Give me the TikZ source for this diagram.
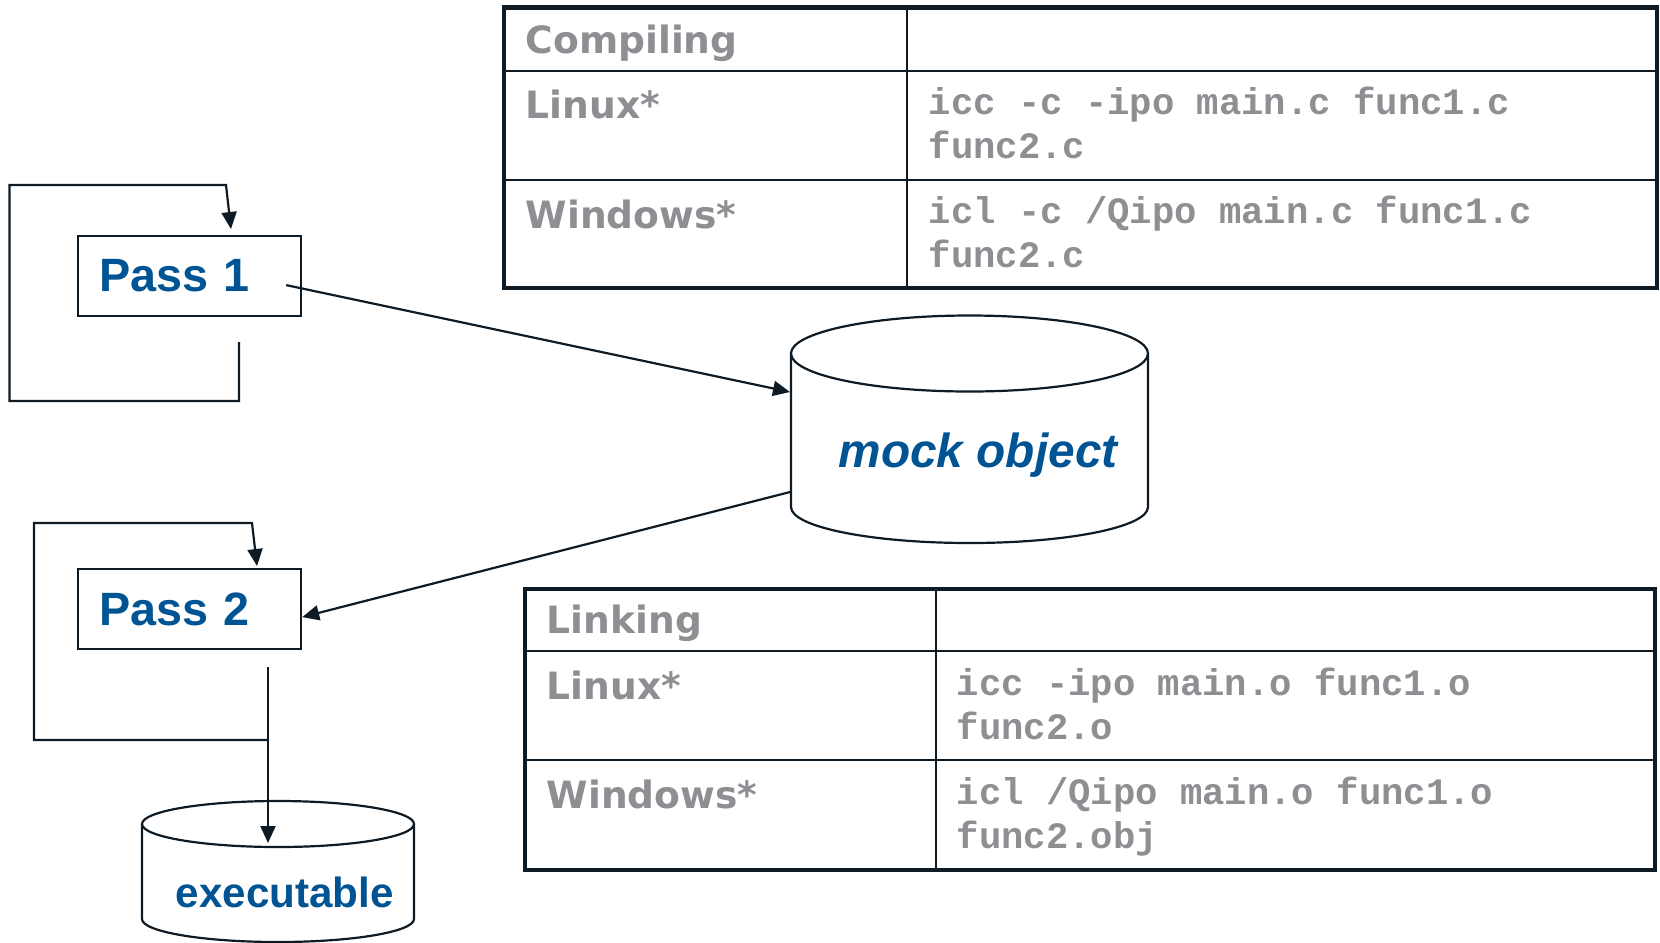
\documentclass[tikz,border=0pt]{standalone}
\usepackage{fontspec}
\setmainfont{Liberation Sans}
\setmonofont{Liberation Mono}
\newfontfamily\tabfont{DejaVu Sans}
\usetikzlibrary{arrows.meta}

\definecolor{passblue}{RGB}{0,84,147}
\definecolor{tabgray}{RGB}{142,143,147}
\definecolor{linedark}{RGB}{14,27,37}

\tikzset{
  conn/.style={draw=linedark, line width=0.22mm},
  arr/.style={conn, -{Triangle[length=1.7mm,width=1.5mm]}},
  passbox/.style={draw=linedark, line width=0.22mm, anchor=north west,
    minimum width=22.3mm, minimum height=8mm, text width=18.1mm, align=left,
    inner xsep=2.1mm, inner ysep=0pt, text=passblue,
    font=\fontsize{13.3}{16}\selectfont\bfseries},
  dbtext/.style={anchor=base west, inner sep=0pt, text=passblue},
  tabtext/.style={anchor=base west, inner sep=0pt, text=tabgray,
    font=\tabfont\bfseries\fontsize{10.7}{13}\selectfont},
  codetext/.style={anchor=base west, inner sep=0pt, text=tabgray, align=left,
    font=\ttfamily\bfseries\fontsize{10.6}{12.5}\selectfont},
  tabouter/.style={draw=linedark, line width=0.45mm},
  tabinner/.style={draw=linedark, line width=0.22mm},
}

\begin{document}
\begin{tikzpicture}[x=0.1mm, y=-0.1mm]

    \useasboundingbox (0,0) rectangle (1660,942);

    % Compiling table
    \draw[tabinner] (907,7.4) -- (907,288);
    \draw[tabinner] (504,71) -- (1657,71);
    \draw[tabinner] (504,180) -- (1657,180);
    \draw[tabouter] (504,7.4) rectangle (1657,288);
    \node[tabtext] (ctitle) at (525,53) {Compiling};
    \node[tabtext] (clinux) at (525,118) {Linux*};
    \node[tabtext] (cwin) at (525,228) {Windows*};
    % (base of a two-line cell sits on its last line)
    \node[codetext] (clinuxcmd) at (928,158) {icc -c -ipo main.c func1.c\\func2.c};
    \node[codetext] (cwincmd) at (928,267) {icl -c /Qipo main.c func1.c\\func2.c};

    % Linking table
    \draw[tabinner] (936,589) -- (936,870);
    \draw[tabinner] (525,651) -- (1655,651);
    \draw[tabinner] (525,760) -- (1655,760);
    \draw[tabouter] (525,589) rectangle (1655,870);
    \node[tabtext] (ltitle) at (546,633) {Linking};
    \node[tabtext] (llinux) at (546,699) {Linux*};
    \node[tabtext] (lwin) at (546,808) {Windows*};
    \node[codetext] (llinuxcmd) at (956,739) {icc -ipo main.o func1.o\\func2.o};
    \node[codetext] (lwincmd) at (956,848) {icl /Qipo main.o func1.o\\func2.obj};

    % Passes
    \node[passbox] (pass1) at (77,235) {Pass 1};
    \node[passbox] (pass2) at (77,568) {Pass 2};

    % Mock object store
    \draw[conn] (969.5,353.5) ellipse [x radius=17.85mm, y radius=3.8mm];
    \draw[conn] (791,353.5) -- (791,507)
        arc [start angle=180, end angle=360, x radius=17.85mm, y radius=3.6mm]
        -- (1148,353.5);
    \node[dbtext, font=\fontsize{13.6}{16}\selectfont\bfseries\itshape] (mockobj) at (838,467) {mock object};
    \coordinate (mockin) at (790,392);
    \coordinate (mockout) at (790,492);

    % Executable store
    \draw[conn] (278,824) ellipse [x radius=13.6mm, y radius=2.3mm];
    \draw[conn] (142,824) -- (142,919)
        arc [start angle=180, end angle=360, x radius=13.6mm, y radius=2.3mm]
        -- (414,824);
    \node[dbtext, font=\fontsize{12}{14}\selectfont\bfseries] (exe) at (175,907) {executable};
    \coordinate (exetop) at (268,843);

    % Pass 1 -> mock object -> Pass 2
    \draw[arr] ([xshift=-1.6mm,yshift=-0.9mm]pass1.east) -- (mockin);
    \draw[arr] (mockout) -- ([yshift=-0.8mm]pass2.east);

    % Loop round Pass 1
    \coordinate (p1back) at (239,342);
    \coordinate (p1in) at (231,229);
    \draw[arr] (p1back) |- (9.5,401) |- (226,185) -- (p1in);

    % Loop round Pass 2, and on to the executable
    \coordinate (p2back) at (268,667);
    \coordinate (p2in) at (257,566);
    \draw[conn] (p2back) -- (268,740);
    \draw[arr] (268,740) -| (34,523) -- (252,523) -- (p2in);
    \draw[arr] (p2back) -- (exetop);

\end{tikzpicture}
\end{document}
